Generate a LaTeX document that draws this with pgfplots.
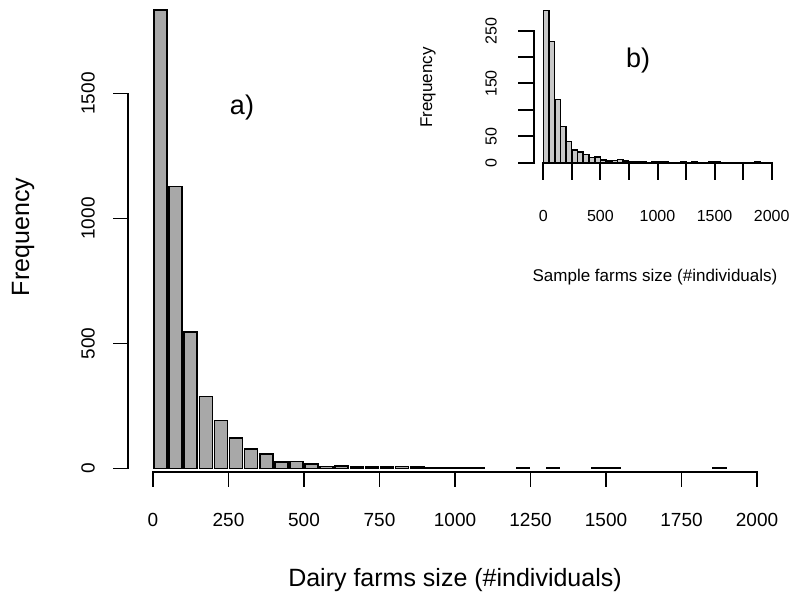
\documentclass[border=0pt]{standalone}
\usepackage{pgfplots}
\pgfplotsset{compat=1.18}
\usepackage{pgfplotstable}
\usepackage{fontspec}
\setmainfont{Liberation Sans}
\definecolor{barmain}{RGB}{168,168,168}
\definecolor{barins}{RGB}{200,200,200}
\pgfplotstableread{
x y
25 1833
75 1128
125 546
175 288
225 192
275 122
325 79
375 59
425 25
475 28
525 18
575 8
625 11
675 6
725 7
775 6
825 8
875 6
925 4
975 4
1025 3
1075 3
1225 2
1325 3
1475 2
1525 2
1875 2
}\maindata
\pgfplotstableread{
x y
25 288
75 229
125 120
175 68
225 40
275 24
325 20
375 16
425 10
475 11
525 5
575 3
625 4
675 6
725 3
775 2
825 2
875 2
975 2
1025 2
1075 2
1225 1
1325 2
1475 1
1525 1
1875 2
}\insetdata
\begin{document}
\begin{tikzpicture}
\useasboundingbox (0pt,0pt) rectangle (793pt,601pt);
% ---------------- main histogram ----------------
\begin{axis}[at={(128pt,129pt)}, anchor=south west, scale only axis,
  width=629pt, height=466pt, xmin=-82.78, xmax=2000, ymin=-14, ymax=1850,
  axis lines=none, clip=false]
\addplot[ybar, bar width=43, bar shift=0pt, fill=barmain, draw=black, line width=1.6pt]
  table[x=x,y=y]{\maindata};
\end{axis}
% axes of main
\draw[line width=1.6pt] (153pt,129pt) -- (757pt,129pt);
\foreach \v in {0,250,...,2000} {
  \draw[line width=1.6pt] ({(153+0.302*\v)*1pt},129.8pt) -- ({(153+0.302*\v)*1pt},114pt);
  \node[font=\fontsize{19}{22}\selectfont] at ({(153+0.302*\v)*1pt},81pt) {\v};
}
\draw[line width=1.6pt] (128pt,132.5pt) -- (128pt,507.5pt);
\foreach \v in {0,500,1000,1500} {
  \draw[line width=1.6pt] (128.8pt,{(132.5+0.25*\v)*1pt}) -- (113pt,{(132.5+0.25*\v)*1pt});
  \node[rotate=90,font=\fontsize{19}{22}\selectfont] at (88pt,{(132.5+0.25*\v)*1pt}) {\v};
}
\node[font=\fontsize{25}{30}\selectfont] at (455pt,21pt) {Dairy farms size (\#individuals)};
\node[rotate=90,font=\fontsize{25}{30}\selectfont] at (23pt,364pt) {Frequency};
\node[font=\fontsize{27}{32}\selectfont] at (242pt,493pt) {a)};
% ---------------- inset histogram ----------------
\begin{axis}[at={(534.3pt,438.3pt)}, anchor=south west, scale only axis,
  width=237.4pt, height=155.76pt, xmin=-78.8, xmax=2000, ymin=0, ymax=295,
  axis lines=none, clip=false]
\addplot[ybar, bar width=47, bar shift=0pt, fill=barins, draw=black, line width=1.4pt]
  table[x=x,y=y]{\insetdata};
\end{axis}
\draw[line width=2pt] (543.3pt,438.3pt) -- (771.7pt,438.3pt);
\foreach \v in {0,250,...,2000} {
  \draw[line width=2pt] ({(543.3+0.1142*\v)*1pt},439pt) -- ({(543.3+0.1142*\v)*1pt},421pt);
}
\foreach \v in {0,500,1000,1500,2000} {
  \node[font=\fontsize{16}{19}\selectfont] at ({(543.3+0.1142*\v)*1pt},385pt) {\v};
}
\draw[line width=2pt] (534.3pt,438.3pt) -- (534.3pt,570.3pt);
\foreach \v in {0,50,...,250} {
  \draw[line width=2pt] (535pt,{(438.3+0.528*\v)*1pt}) -- (518pt,{(438.3+0.528*\v)*1pt});
}
\foreach \v in {0,50,150,250} {
  \node[rotate=90,font=\fontsize{16}{19}\selectfont] at (491pt,{(438.3+0.528*\v)*1pt}) {\v};
}
\node[font=\fontsize{17}{20}\selectfont] at (655pt,324pt) {Sample farms size (\#individuals)};
\node[rotate=90,font=\fontsize{17}{20}\selectfont] at (428pt,513.5pt) {Frequency};
\node[font=\fontsize{27}{32}\selectfont] at (638pt,540pt) {b)};
\end{tikzpicture}
\end{document}
